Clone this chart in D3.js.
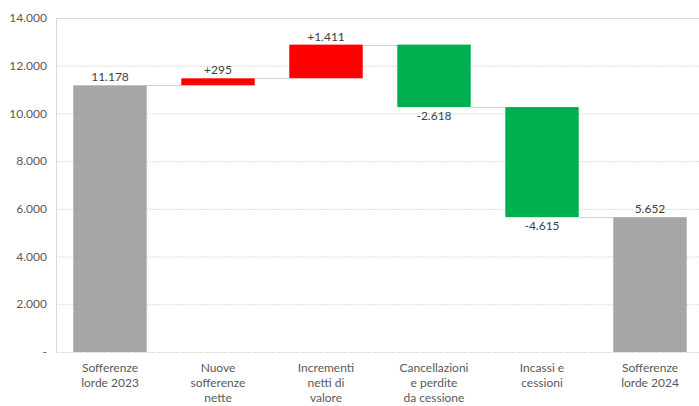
<!DOCTYPE html>
<html>
<head>
<meta charset="utf-8">
<script src="https://cdn.jsdelivr.net/npm/d3@7"></script>
<style>
  html, body { margin: 0; padding: 0; background: #fff; }
  svg { display: block; font-family: Lato, "Open Sans", sans-serif; }
</style>
</head>
<body>
<svg id="chart" width="699" height="406"></svg>
<script>
// Waterfall: gross bad loans 2023 -> 2024
const categories = [
  ["Sofferenze", "lorde 2023"],
  ["Nuove", "sofferenze", "nette"],
  ["Incrementi", "netti di", "valore"],
  ["Cancellazioni", "e perdite", "da cessione"],
  ["Incassi e", "cessioni"],
  ["Sofferenze", "lorde 2024"]
];
const values = [11178, 295, 1411, -2618, -4615, 5652];
const kinds = ["total", "delta", "delta", "delta", "delta", "total"];
const yTicks = [0, 2000, 4000, 6000, 8000, 10000, 12000, 14000];

const it = d3.formatLocale({ decimal: ",", thousands: ".", grouping: [3], currency: ["€", ""] });
const fmtNum = it.format(",d");
const fmtTick = v => v === 0 ? "-" : fmtNum(v);
const fmtLabel = (v, k) => k === "total" ? fmtNum(v) : (v > 0 ? "+" : "-") + fmtNum(Math.abs(v));

// running start/end for each bar
let level = 0;
const bars = values.map((v, i) => {
  let start, end;
  if (kinds[i] === "total") { start = 0; end = v; level = v; }
  else { start = level; end = level + v; level = end; }
  return { i, v, kind: kinds[i], start, end };
});

const svg = d3.select("#chart");
const plotLeft = 56, plotTop = 18, plotBottom = 352;

const x = d3.scaleBand().domain(d3.range(categories.length))
  .range([plotLeft, 704]).paddingInner(0.32).paddingOuter(0.16);
const y = d3.scaleLinear().domain([0, 14000]).range([plotBottom, plotTop]);

// gridlines
svg.append("g").selectAll("line").data(yTicks).join("line")
  .attr("x1", plotLeft).attr("x2", 699)
  .attr("y1", d => y(d) + 0.5).attr("y2", d => y(d) + 0.5)
  .attr("stroke", "#dadada").attr("stroke-width", 1)
  .attr("stroke-dasharray", d => d === 14000 ? null : "2,1");

// plot-area left edge
svg.append("line").attr("x1", plotLeft + 0.5).attr("x2", plotLeft + 0.5)
  .attr("y1", y(14000)).attr("y2", y(0))
  .attr("stroke", "#d9d9d9");

// y tick labels
svg.append("g").selectAll("text").data(yTicks).join("text")
  .attr("x", 47).attr("y", d => y(d)).attr("dy", "0.35em")
  .attr("text-anchor", "end").attr("font-size", 12).attr("fill", "#595959")
  .text(fmtTick);

// fine texture for the totals
const defs = svg.append("defs");
const pat = defs.append("pattern").attr("id", "greyTex")
  .attr("width", 2).attr("height", 2).attr("patternUnits", "userSpaceOnUse");
pat.append("rect").attr("width", 2).attr("height", 2).attr("fill", "#a9a9a9");
pat.append("rect").attr("width", 1).attr("height", 1).attr("fill", "#9d9d9d");

// connectors between consecutive bars
svg.append("g").selectAll("line").data(bars.slice(0, -1)).join("line")
  .attr("x1", d => x(d.i) + x.bandwidth())
  .attr("x2", d => x(d.i + 1))
  .attr("y1", d => Math.round(y(d.end)) + 0.5)
  .attr("y2", d => Math.round(y(d.end)) + 0.5)
  .attr("stroke", "#d0d0d0").attr("stroke-width", 1);

const color = d => d.kind === "total" ? "url(#greyTex)" : (d.v > 0 ? "#ff0000" : "#00b050");

svg.append("g").selectAll("rect").data(bars).join("rect")
  .attr("x", d => x(d.i)).attr("width", x.bandwidth())
  .attr("y", d => y(Math.max(d.start, d.end)))
  .attr("height", d => Math.abs(y(d.start) - y(d.end)))
  .attr("fill", color);

// value labels
svg.append("g").selectAll("text").data(bars).join("text")
  .attr("x", d => x(d.i) + x.bandwidth() / 2)
  .attr("y", d => d.v >= 0 ? y(Math.max(d.start, d.end)) - 4 : y(Math.min(d.start, d.end)) + 13)
  .attr("text-anchor", "middle").attr("font-size", 12).attr("fill", "#404040")
  .text(d => fmtLabel(d.v, d.kind));

// category labels
const cat = svg.append("g").selectAll("text").data(categories).join("text")
  .attr("x", (d, i) => x(i) + x.bandwidth() / 2)
  .attr("y", 372)
  .attr("text-anchor", "middle").attr("font-size", 12).attr("fill", "#595959");
cat.selectAll("tspan").data(d => d).join("tspan")
  .attr("x", function () { return this.parentNode.getAttribute("x"); })
  .attr("dy", (d, j) => j === 0 ? 0 : 15)
  .text(d => d);
</script>
</body>
</html>
